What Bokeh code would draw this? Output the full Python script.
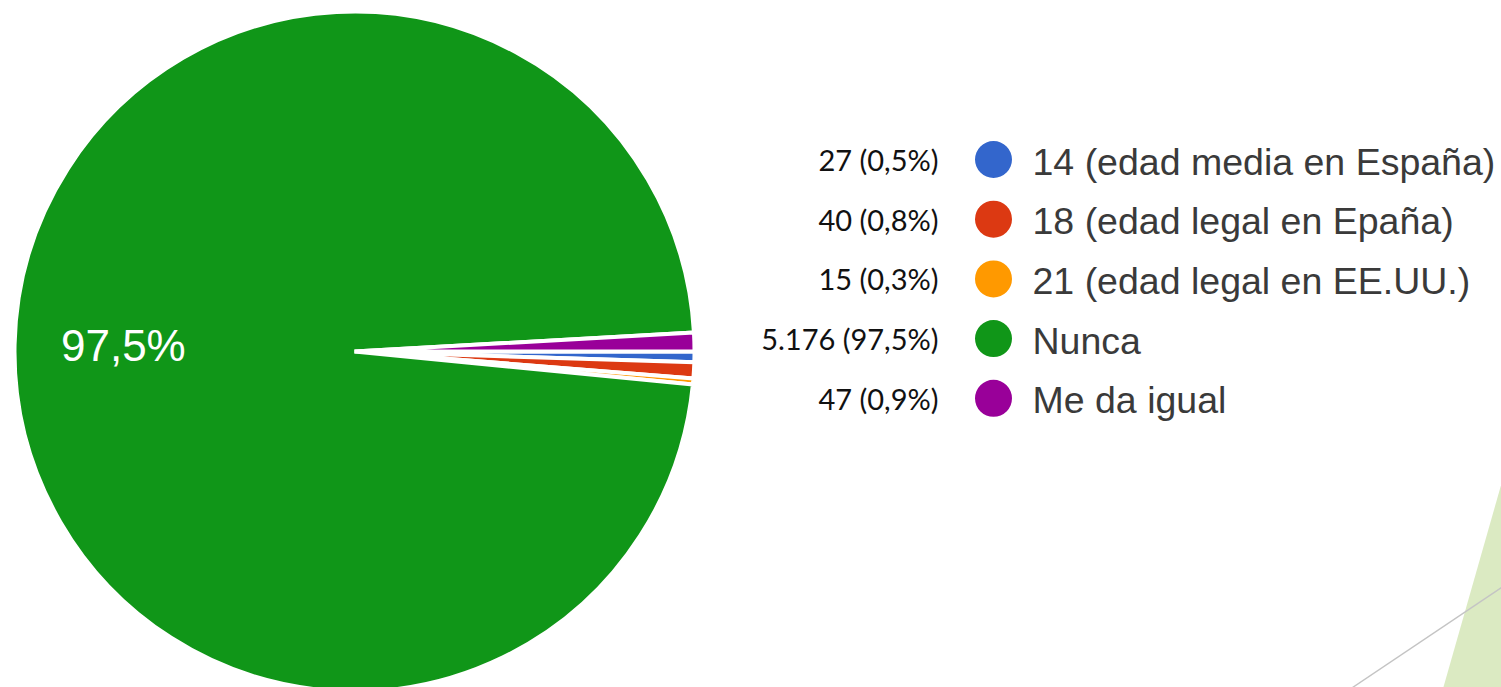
import numpy as np
from bokeh.plotting import figure
from bokeh.models import Range1d, ColumnDataSource
from bokeh.core.properties import value
from bokeh.embed import file_html
from bokeh.resources import INLINE

# ---- data ----
categories = ["14 (edad media en España)", "18 (edad legal en Epaña)",
              "21 (edad legal en EE.UU.)", "Nunca", "Me da igual"]
counts = [27, 40, 15, 5176, 47]
pct_labels = ["0,5%", "0,8%", "0,3%", "97,5%", "0,9%"]
colors = ["#3366cc", "#dc3912", "#ff9900", "#109618", "#990099"]

# ---- layout (page pixels) ----
W, H = 1501, 687
OX, OY = 0, 0
def PY(y):  # page y -> data y
    return OY + H - y

CX, CY, R = 354, 351, 340
ROW0, ROWSTEP = 159, 59.7
DOT_X, TXT_X, CNT_X = 993, 1032, 938

p = figure(width=W, height=H, x_range=Range1d(OX, OX + W), y_range=Range1d(0, H),
           output_backend="svg", toolbar_location=None, min_border=0,
           x_axis_location=None, y_axis_location=None)
p.grid.visible = False
p.outline_line_color = None
p.background_fill_color = "white"
p.border_fill_color = "white"

# decoration (slide background shapes)
p.patch([1501, 1442, 1520, 1520], [PY(483), PY(690), PY(690), PY(483)],
        color="#dbeac2", line_color=None)
p.line([1352, 1501], [PY(687), PY(587)], line_color="#c4c4c4", line_width=1.5)

# pie
vals = np.array(counts, dtype=float)
cum = np.cumsum(vals) / vals.sum() * 2 * np.pi
prev = np.concatenate([[0.0], cum[:-1]])
src = ColumnDataSource(dict(start=-cum, end=-prev, color=colors))
p.wedge(x=CX, y=PY(CY), radius=R, start_angle="start", end_angle="end",
        fill_color="color", line_color="white", line_width=4, source=src)

# big slice label
gi = int(np.argmax(vals))
mid = -(cum[gi] + prev[gi]) / 2
lx = CX + 0.68 * R * np.cos(mid)
ly = PY(CY) + 0.68 * R * np.sin(mid)
p.text(x=[lx], y=[ly], text=[pct_labels[gi]], text_font=value("Liberation Sans"),
       text_font_size="44px", text_color="white", text_align="center",
       text_baseline="alphabetic", y_offset=-1)

# legend
n = len(categories)
rows = [PY(ROW0 + i * ROWSTEP) for i in range(n)]
def fmt(c):
    return f"{c:,}".replace(",", ".")
cnt_text = [f"{fmt(c)} ({pl})" for c, pl in zip(counts, pct_labels)]
lsrc = ColumnDataSource(dict(y=rows, color=colors, cat=categories, cnt=cnt_text))
p.scatter(x=DOT_X, y="y", size=37, marker="circle", fill_color="color",
          line_color=None, source=lsrc)
p.text(x=TXT_X, y="y", text="cat", source=lsrc, text_font=value("Liberation Sans"),
       text_font_size="37.5px", text_color="#3a3a3a", text_align="left",
       text_baseline="alphabetic", y_offset=2)
p.text(x=CNT_X, y="y", text="cnt", source=lsrc, text_font=value("Lato"),
       text_font_size="29px", text_color="#111111", text_align="right",
       text_baseline="alphabetic", y_offset=0)

open("out.html", "w").write(file_html(p, INLINE))
